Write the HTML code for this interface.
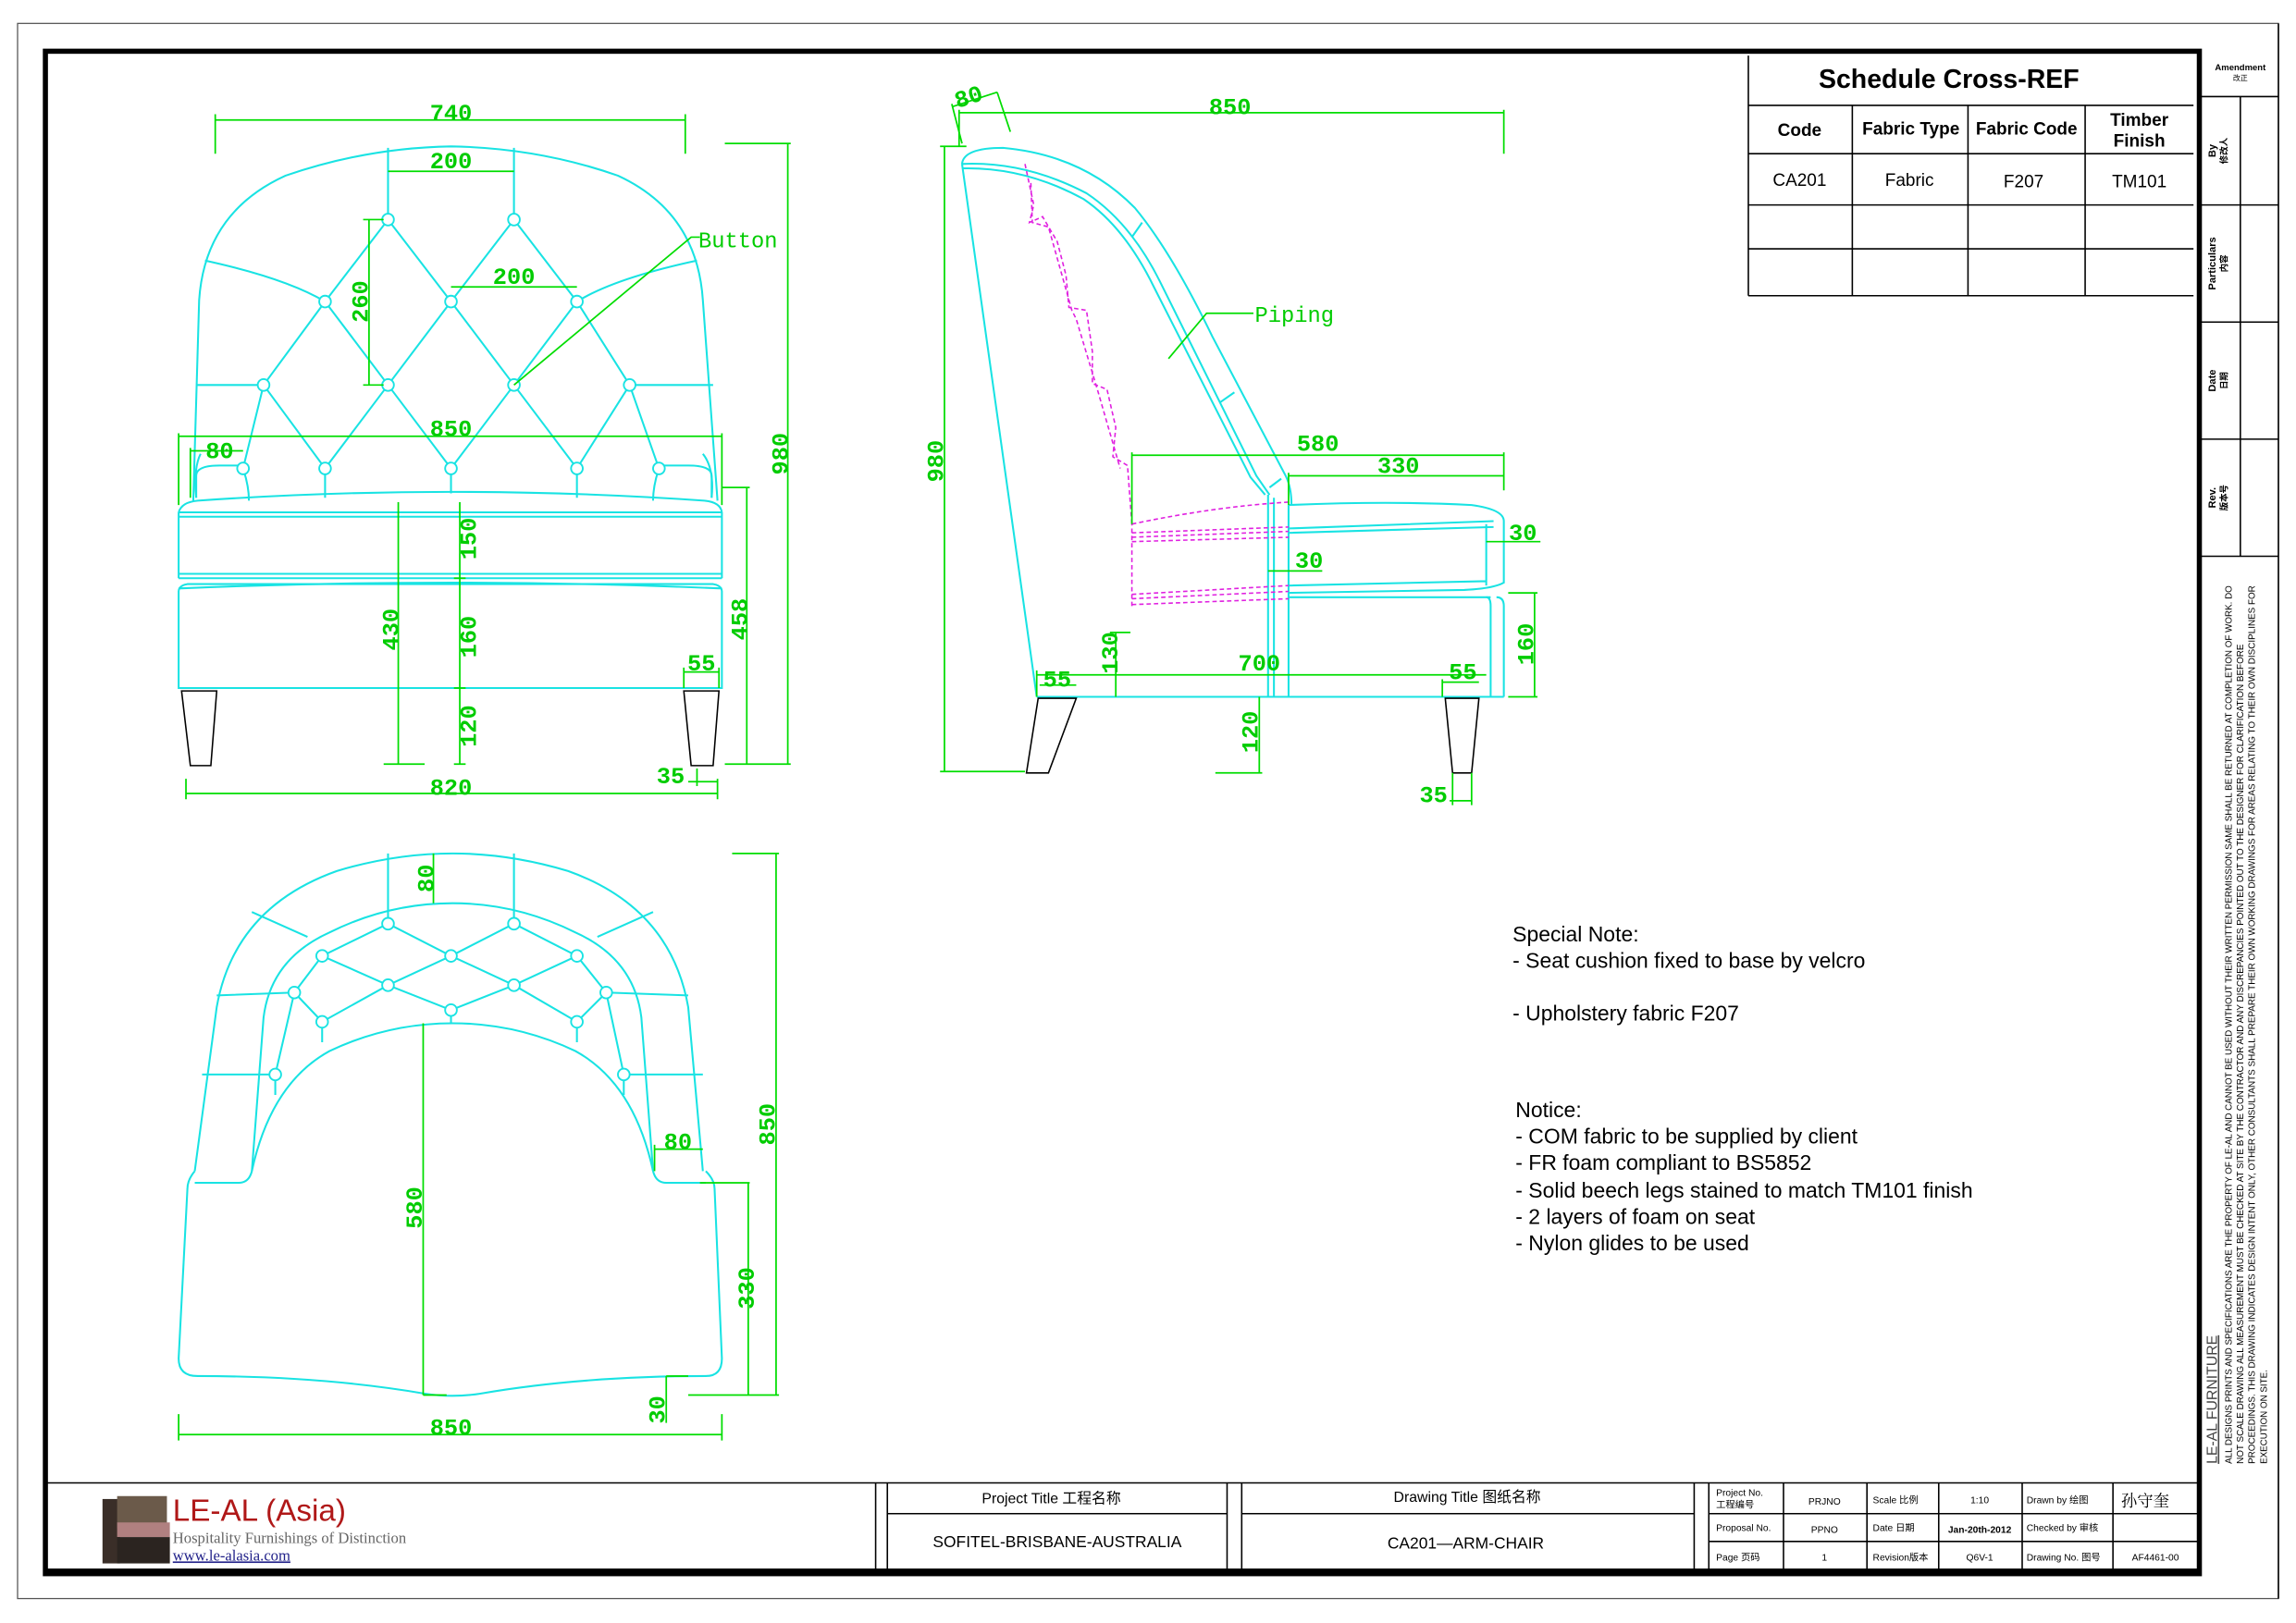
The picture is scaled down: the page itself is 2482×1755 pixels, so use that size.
<!DOCTYPE html>
<html><head><meta charset="utf-8"><style>
html,body{margin:0;padding:0;background:#fff;}
svg{display:block;}
.c{fill:none;stroke:#19e3e3;stroke-width:1.3;}
.g{fill:none;stroke:#00dd00;stroke-width:1.1;}
.m{fill:none;stroke:#e020e0;stroke-width:1;stroke-dasharray:3 2;}
.k{fill:none;stroke:#000;stroke-width:1;}
.dt{fill:#00cc00;font-family:"Liberation Mono",monospace;font-weight:bold;font-size:16px;text-anchor:middle;}
.lt{fill:#00cc00;font-family:"Liberation Mono",monospace;font-size:15px;}
.t{font-family:"Liberation Sans","Noto Sans CJK SC",sans-serif;fill:#000;}
.btn{fill:#fff;stroke:#19e3e3;stroke-width:1.2;}
</style></head><body>
<svg width="2482" height="1755" viewBox="0 0 1568 1108.7" preserveAspectRatio="none" xmlns="http://www.w3.org/2000/svg">
<rect x="0" y="0" width="1568" height="1109" fill="#fff"/>
<rect x="12" y="16" width="1544" height="1076" fill="none" stroke="#555" stroke-width="0.8"/>
<rect x="31" y="35" width="1471" height="1040" fill="none" stroke="#000" stroke-width="3.5"/>
<line x1="31" y1="1074" x2="1502" y2="1074" stroke="#000" stroke-width="5"/>
<g class="k">
<line x1="1502" y1="66" x2="1556" y2="66"/>
<line x1="1502" y1="140" x2="1556" y2="140"/>
<line x1="1502" y1="220" x2="1556" y2="220"/>
<line x1="1502" y1="300" x2="1556" y2="300"/>
<line x1="1502" y1="380" x2="1556" y2="380"/>
<line x1="1530" y1="66" x2="1530" y2="380"/>
<line x1="1556" y1="16" x2="1556" y2="1092"/>
</g>
<text class="t" x="1530" y="48" font-size="6" font-weight="bold" text-anchor="middle">Amendment</text>
<text class="t" x="1530" y="55" font-size="5" text-anchor="middle">改正</text>
<g class="t" font-size="7" font-weight="bold" text-anchor="middle">
<text transform="translate(1513,103) rotate(-90)">By</text>
<text transform="translate(1521,103) rotate(-90)" font-size="6">修改人</text>
<text transform="translate(1513,180) rotate(-90)">Particulars</text>
<text transform="translate(1521,180) rotate(-90)" font-size="6">内容</text>
<text transform="translate(1513,260) rotate(-90)">Date</text>
<text transform="translate(1521,260) rotate(-90)" font-size="6">日期</text>
<text transform="translate(1513,340) rotate(-90)">Rev.</text>
<text transform="translate(1521,340) rotate(-90)" font-size="6">版本号</text>
</g>
<g class="t" font-size="6.2">
<text transform="translate(1514,1000) rotate(-90)" font-size="10" fill="#444" text-decoration="underline">LE-AL FURNITURE</text>
<text transform="translate(1524,1000) rotate(-90)" textLength="600" lengthAdjust="spacingAndGlyphs">ALL DESIGNS PRINTS AND SPECIFICATIONS ARE THE PROPERTY OF LE-AL AND CANNOT BE USED WITHOUT THEIR WRITTEN PERMISSION SAME SHALL BE RETURNED AT COMPLETION OF WORK. DO</text>
<text transform="translate(1532,1000) rotate(-90)" textLength="560" lengthAdjust="spacingAndGlyphs">NOT SCALE DRAWING ALL MEASUREMENT MUST BE CHECKED AT SITE BY THE CONTRACTOR AND ANY DISCREPANCIES POINTED OUT TO THE DESIGNER FOR CLARIFICATION BEFORE</text>
<text transform="translate(1540,1000) rotate(-90)" textLength="600" lengthAdjust="spacingAndGlyphs">PROCEEDINGS. THIS DRAWING INDICATES DESIGN INTENT ONLY, OTHER CONSULTANTS SHALL PREPARE THEIR OWN WORKING DRAWINGS FOR AREAS RELATING TO THEIR OWN DISCIPLINES FOR</text>
<text transform="translate(1548,1000) rotate(-90)">EXECUTION ON SITE.</text>
</g>
<g class="k" stroke-width="1.3">
<line x1="1194" y1="38" x2="1194" y2="202"/>
<line x1="1194" y1="72" x2="1498" y2="72"/>
<line x1="1194" y1="105" x2="1498" y2="105"/>
<line x1="1194" y1="140" x2="1498" y2="140"/>
<line x1="1194" y1="170" x2="1498" y2="170"/>
<line x1="1194" y1="202" x2="1498" y2="202"/>
<line x1="1265" y1="72" x2="1265" y2="202"/>
<line x1="1344" y1="72" x2="1344" y2="202"/>
<line x1="1424" y1="72" x2="1424" y2="202"/>
</g>
<text class="t" x="1331" y="60" font-size="18" font-weight="bold" text-anchor="middle">Schedule Cross-REF</text>
<g class="t" font-size="12" font-weight="bold" text-anchor="middle">
<text x="1229" y="93">Code</text><text x="1305" y="92">Fabric Type</text><text x="1384" y="92">Fabric Code</text>
<text x="1461" y="86">Timber</text><text x="1461" y="100">Finish</text>
</g>
<g class="t" font-size="12" text-anchor="middle">
<text x="1229" y="127">CA201</text><text x="1304" y="127">Fabric</text><text x="1382" y="128">F207</text><text x="1461" y="128">TM101</text>
</g>
<g class="k">
<line x1="31" y1="1013" x2="1502" y2="1013"/>
<line x1="598" y1="1013" x2="598" y2="1073"/><line x1="606" y1="1013" x2="606" y2="1073"/>
<line x1="838" y1="1013" x2="838" y2="1073"/><line x1="848" y1="1013" x2="848" y2="1073"/>
<line x1="606" y1="1034" x2="838" y2="1034"/><line x1="848" y1="1034" x2="1157" y2="1034"/>
<line x1="1157" y1="1013" x2="1157" y2="1073"/><line x1="1167" y1="1013" x2="1167" y2="1073"/>
<line x1="1167" y1="1034" x2="1502" y2="1034"/><line x1="1167" y1="1053" x2="1502" y2="1053"/>
<line x1="1218" y1="1013" x2="1218" y2="1073"/><line x1="1275" y1="1013" x2="1275" y2="1073"/>
<line x1="1324" y1="1013" x2="1324" y2="1073"/><line x1="1381" y1="1013" x2="1381" y2="1073"/>
<line x1="1443" y1="1013" x2="1443" y2="1073"/>
</g>
<g class="t" font-size="10" text-anchor="middle">
<text x="718" y="1027">Project Title  工程名称</text>
<text x="722" y="1057" font-size="11">SOFITEL-BRISBANE-AUSTRALIA</text>
<text x="1002" y="1026">Drawing Title  图纸名称</text>
<text x="1001" y="1058" font-size="11">CA201—ARM-CHAIR</text>
</g>
<g class="t" font-size="6.5">
<text x="1172" y="1022">Project No.</text><text x="1172" y="1030">工程编号</text>
<text x="1172" y="1046">Proposal No.</text><text x="1172" y="1066">Page 页码</text>
<text x="1246" y="1028" text-anchor="middle">PRJNO</text><text x="1246" y="1047" text-anchor="middle">PPNO</text><text x="1246" y="1066" text-anchor="middle">1</text>
<text x="1279" y="1027">Scale  比例</text><text x="1279" y="1046">Date   日期</text><text x="1279" y="1066">Revision版本</text>
<text x="1352" y="1027" text-anchor="middle">1:10</text><text x="1352" y="1047" text-anchor="middle" font-weight="bold">Jan-20th-2012</text><text x="1352" y="1066" text-anchor="middle">Q6V-1</text>
<text x="1384" y="1027">Drawn by    绘图</text><text x="1384" y="1046">Checked by 审核</text><text x="1384" y="1066">Drawing No. 图号</text>
<text x="1472" y="1066" text-anchor="middle">AF4461-00</text>
<text x="1465" y="1029" text-anchor="middle" font-size="11" font-family="Noto Serif CJK SC,serif">孙守奎</text>
</g>
<rect x="70" y="1024" width="12" height="44" fill="#3a2e28"/>
<rect x="80" y="1022" width="34" height="22" fill="#6b5a4a"/>
<rect x="80" y="1040" width="36" height="10" fill="#b08080"/>
<rect x="80" y="1050" width="36" height="18" fill="#2b2420"/>
<text x="118" y="1039" font-family="Liberation Sans,sans-serif" font-size="21" fill="#b01818">LE-AL (Asia)</text>
<text x="118" y="1054" font-family="Liberation Serif,serif" font-size="10.5" fill="#666">Hospitality Furnishings of Distinction</text>
<text x="118" y="1066" font-family="Liberation Serif,serif" font-size="10.5" fill="#22228a" text-decoration="underline">www.le-alasia.com</text>

<g class="c">
<path d="M132,342 L136,205 Q140,145 195,120 Q250,101 308,100 Q368,101 422,120 Q476,145 480,205 L490,342"/>
<path d="M122,350 Q124,343 135,342 Q308,330 481,342 Q492,343 493,350"/>
<line x1="122" y1="350" x2="493" y2="350"/><line x1="122" y1="353" x2="493" y2="353"/>
<line x1="122" y1="350" x2="122" y2="395"/><line x1="493" y1="350" x2="493" y2="395"/>
<line x1="122" y1="392" x2="493" y2="392"/><line x1="122" y1="395" x2="493" y2="395"/>
<path d="M122,402 Q308,394 493,402"/>
<path d="M122,470 L122,404 Q122,400 128,399 L487,399 Q493,400 493,404 L493,470 Z"/>
<path d="M265,150 L222,206 M265,150 L308,206 M351,150 L308,206 M351,150 L394,206"/>
<path d="M222,206 L180,263 M222,206 L265,263 M308,206 L265,263 M308,206 L351,263 M394,206 L351,263 M394,206 L430,263"/>
<path d="M180,263 L166,320 M180,263 L222,320 M265,263 L222,320 M265,263 L308,320 M351,263 L308,320 M351,263 L394,320 M430,263 L394,320 M430,263 L450,320"/>
<path d="M140,178 Q195,190 222,206 M476,178 Q420,190 394,206"/>
<path d="M180,263 L134,263 M430,263 L487,263"/>
<path d="M265,150 L265,101 M351,150 L351,101"/>
<path d="M222,320 L222,340 M308,320 L308,337 M394,320 L394,340"/>
<path d="M134,340 L134,325 Q134,318 150,318 L166,318 M166,320 Q170,332 170,342"/>
<path d="M486,340 L486,325 Q486,318 470,318 L450,318 M450,320 Q446,332 446,342"/>
<path d="M137,310 Q132,320 134,340 M480,310 Q488,320 486,340"/>
</g>
<g>
<circle class="btn" cx="265" cy="150" r="4"/><circle class="btn" cx="351" cy="150" r="4"/>
<circle class="btn" cx="222" cy="206" r="4"/><circle class="btn" cx="308" cy="206" r="4"/><circle class="btn" cx="394" cy="206" r="4"/>
<circle class="btn" cx="180" cy="263" r="4"/><circle class="btn" cx="265" cy="263" r="4"/><circle class="btn" cx="351" cy="263" r="4"/><circle class="btn" cx="430" cy="263" r="4"/>
<circle class="btn" cx="166" cy="320" r="4"/><circle class="btn" cx="222" cy="320" r="4"/><circle class="btn" cx="308" cy="320" r="4"/><circle class="btn" cx="394" cy="320" r="4"/><circle class="btn" cx="450" cy="320" r="4"/>
</g>
<path class="k" stroke-width="1.3" d="M124,472 L148,472 L144,523 L130,523 Z M467,472 L491,472 L487,523 L472,523 Z"/>
<g class="g">
<path d="M147,82 L468,82 M147,78 L147,105 M468,78 L468,105"/>
<path d="M265,117 L351,117"/>
<path d="M308,196 L394,196"/>
<path d="M252,150 L252,263 M248,150 L262,150 M248,263 L262,263"/>
<path d="M351,263 L472,162 L478,162"/>
<path d="M122,298 L493,298 M122,296 L122,345 M493,296 L493,345"/>
<path d="M130,308 L166,308 M130,306 L130,340"/>
<path d="M495,98 L540,98 M538,98 L538,522 M495,522 L540,522"/>
<path d="M493,333 L512,333 M510,333 L510,522"/>
<path d="M272,343 L272,522 M262,522 L290,522"/>
<path d="M314,343 L314,522 M310,395 L318,395 M310,470 L318,470 M310,522 L318,522"/>
<path d="M467,459 L491,459 M467,456 L467,470 M491,456 L491,470"/>
<path d="M470,534 L490,534 M476,525 L476,537"/>
<path d="M127,542 L490,542 M127,532 L127,546 M490,532 L490,546"/>
</g>
<g class="dt">
<text x="308" y="82">740</text><text x="308" y="115">200</text><text x="351" y="194">200</text>
<text transform="translate(251,206) rotate(-90)">260</text>
<text x="308" y="298">850</text><text x="150" y="313">80</text>
<text transform="translate(538,310) rotate(-90)">980</text>
<text transform="translate(510,423) rotate(-90)">458</text>
<text transform="translate(272,430) rotate(-90)">430</text>
<text transform="translate(325,368) rotate(-90)">150</text>
<text transform="translate(325,435) rotate(-90)">160</text>
<text transform="translate(325,496) rotate(-90)">120</text>
<text x="479" y="458">55</text><text x="458" y="535">35</text><text x="308" y="543">820</text>
</g>
<text class="lt" x="477" y="169">Button</text>

<g class="c">
<path d="M657,112 Q658,101 685,101 Q740,106 775,142 Q800,172 828,230 L878,325 Q882,333 882,345"/>
<path d="M657,112 Q700,110 742,132 Q772,152 792,192 L858,325 L867,338"/>
<path d="M657,115 Q700,114 740,136 Q768,155 788,196 L854,326 L864,338"/>
<path d="M657,112 L708,476"/>
<path d="M780,152 L773,162 M843,268 L833,275 M875,327 L867,333"/>
<path d="M880,345 Q950,342 1005,345 Q1027,348 1027,356 L1027,398 Q1020,402 1000,403 L880,405"/>
<path d="M880,361 L1020,356 M880,364 L1020,360"/>
<path d="M1015,358 L1015,400 M880,400 L1015,397"/>
<path d="M866,338 L866,476 M870,340 L870,476 M880,345 L880,476"/>
<path d="M1015,408 Q1018,408 1018,414 L1018,476 M1022,408 Q1027,408 1027,414 L1027,476"/>
<path d="M880,408 L1018,408"/>
<path d="M708,476 L1027,476"/>
</g>
<g class="m">
<path d="M700,112 L706,140 L703,152 L712,148 L722,165 L728,188 L730,210 L742,212 L746,240 L746,262 L756,266 L762,292 L760,312 L770,318 L773,358"/>
<path d="M704,125 L705,152 L716,155 L732,212 L735,218 L750,268 L765,320"/>
<path d="M773,358 Q830,346 880,343"/>
<path d="M773,364 L880,360 M773,367 L880,363 M773,370 L880,367"/>
<path d="M773,406 L880,400 M773,409 L880,404 M773,413 L880,409"/>
<path d="M773,356 L773,414"/>
</g>
<path class="k" stroke-width="1.3" d="M709,477 L735,477 L716,528 L701,528 Z M987,477 L1010,477 L1005,528 L992,528 Z"/>
<g class="g">
<path d="M655,77 L1027,77 M1027,75 L1027,105 M655,75 L655,100"/>
<path d="M650,73 L681,63 M650,71 L657,98 M681,63 L690,90"/>
<path d="M642,100 L660,100 M645,100 L645,527 M642,527 L700,527"/>
<path d="M798,245 L824,214 L856,214"/>
<path d="M773,311 L1027,311 M773,309 L773,358 M1027,309 L1027,335"/>
<path d="M880,325 L1027,325 M880,323 L880,345"/>
<path d="M1015,370 L1052,370"/>
<path d="M866,390 L903,390"/>
<path d="M1030,405 L1050,405 M1048,405 L1048,476 M1030,476 L1050,476"/>
<path d="M758,432 L772,432 M762,432 L762,476"/>
<path d="M708,461 L1015,461 M708,458 L708,476"/>
<path d="M710,468 L735,468 M985,466 L1010,466 M985,464 L985,476"/>
<path d="M860,476 L860,528 M830,528 L862,528"/>
<path d="M990,547 L1005,547 M992,528 L992,550 M1005,528 L1005,550"/>
</g>
<g class="dt">
<text x="840" y="78">850</text><text transform="translate(663,71) rotate(-18)">80</text>
<text transform="translate(644,315) rotate(-90)">980</text>
<text x="900" y="308">580</text><text x="955" y="323">330</text>
<text x="1040" y="369">30</text><text x="894" y="388">30</text>
<text transform="translate(1047,440) rotate(-90)">160</text>
<text transform="translate(763,446) rotate(-90)">130</text>
<text x="860" y="458">700</text><text x="722" y="469">55</text><text x="999" y="464">55</text>
<text transform="translate(859,500) rotate(-90)">120</text>
<text x="979" y="548">35</text>
</g>
<text class="lt" x="857" y="220">Piping</text>

<g class="c">
<path d="M133,800 L148,688 Q160,620 230,595 Q270,583 309,583 Q348,583 388,595 Q458,620 470,688 L480,800"/>
<path d="M133,800 Q128,806 128,812 L122,928 Q122,940 135,940 Q220,940 290,952 Q309,955 328,952 Q398,940 482,940 Q493,940 493,928 L488,812 Q488,806 482,800"/>
<path d="M133,808 L163,808 Q170,808 172,800 M482,808 L455,808 Q448,808 446,800"/>
<path d="M172,800 Q185,740 225,718 Q265,699 309,699 Q353,699 393,718 Q433,740 446,800"/>
<path d="M172,800 L180,695 Q185,655 225,637 Q265,617 309,617 Q353,617 393,637 Q433,655 438,695 L446,800"/>
<path d="M265,583 L265,631 M351,583 L351,631"/>
<path d="M172,623 L210,640 M446,623 L408,640"/>
<path d="M148,680 L201,678 M470,680 L414,678"/>
<path d="M138,734 L188,734 M480,734 L426,734"/>
<path d="M265,631 L220,653 M265,631 L308,653 M351,631 L308,653 M351,631 L394,653"/>
<path d="M220,653 L201,678 M220,653 L265,673 M308,653 L265,673 M308,653 L351,673 M394,653 L351,673 M394,653 L414,678"/>
<path d="M201,678 L220,698 M265,673 L220,698 M265,673 L308,690 M351,673 L308,690 M351,673 L394,698 M414,678 L394,698"/>
<path d="M201,678 L188,734 M414,678 L426,734"/>
<path d="M220,698 L220,712 M308,690 L308,699 M394,698 L394,712 M188,734 L188,748 M426,734 L426,748"/>
</g>
<g>
<circle class="btn" cx="265" cy="631" r="4"/><circle class="btn" cx="351" cy="631" r="4"/>
<circle class="btn" cx="220" cy="653" r="4"/><circle class="btn" cx="308" cy="653" r="4"/><circle class="btn" cx="394" cy="653" r="4"/>
<circle class="btn" cx="201" cy="678" r="4"/><circle class="btn" cx="265" cy="673" r="4"/><circle class="btn" cx="351" cy="673" r="4"/><circle class="btn" cx="414" cy="678" r="4"/>
<circle class="btn" cx="220" cy="698" r="4"/><circle class="btn" cx="308" cy="690" r="4"/><circle class="btn" cx="394" cy="698" r="4"/>
<circle class="btn" cx="188" cy="734" r="4"/><circle class="btn" cx="426" cy="734" r="4"/>
</g>
<g class="g">
<path d="M296,583 L296,617"/>
<path d="M289,699 L289,953 M289,953 L305,953"/>
<path d="M500,583 L532,583 M530,583 L530,953"/>
<path d="M478,808 L512,808 M511,808 L511,953 M470,953 L532,953"/>
<path d="M447,785 L480,785 M447,782 L447,800"/>
<path d="M455,940 L455,972 M455,940 L470,940"/>
<path d="M122,980 L493,980 M122,966 L122,984 M493,966 L493,984"/>
</g>
<g class="dt">
<text transform="translate(296,600) rotate(-90)">80</text>
<text transform="translate(288,825) rotate(-90)">580</text>
<text transform="translate(529,768) rotate(-90)">850</text>
<text transform="translate(515,880) rotate(-90)">330</text>
<text x="463" y="785">80</text>
<text transform="translate(454,963) rotate(-90)">30</text>
<text x="308" y="980">850</text>
</g>

<g class="t" font-size="14.5">
<text x="1033" y="643">Special Note:</text>
<text x="1033" y="661">- Seat cushion fixed to base by velcro</text>
<text x="1033" y="697">- Upholstery fabric F207</text>
<text x="1035" y="763">Notice:</text>
<text x="1035" y="781">- COM fabric to be supplied by client</text>
<text x="1035" y="799">- FR foam compliant to BS5852</text>
<text x="1035" y="818">- Solid beech legs stained to match TM101 finish</text>
<text x="1035" y="836">- 2 layers of foam on seat</text>
<text x="1035" y="854">- Nylon glides to be used</text>
</g>
</svg>
</body></html>
